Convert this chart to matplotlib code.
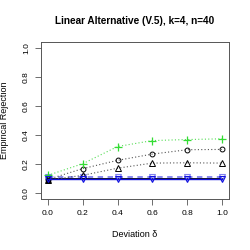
import matplotlib
matplotlib.use("Agg")
import matplotlib.pyplot as plt

plt.rcParams['font.family'] = ['Liberation Sans', 'DejaVu Sans']

# Deviation values
delta = [0.0, 0.2, 0.4, 0.6, 0.8, 1.0]

# Empirical rejection rates per test
green_plus = [0.123, 0.203, 0.321, 0.362, 0.369, 0.374]
circles = [0.095, 0.169, 0.226, 0.269, 0.299, 0.301]
triangles = [0.09, 0.123, 0.172, 0.207, 0.209, 0.207]
light_blue = [0.11, 0.11, 0.11, 0.11, 0.11, 0.11]
blue_tri = [0.10, 0.10, 0.10, 0.10, 0.10, 0.10]
black_line = [0.095, 0.095, 0.095, 0.095, 0.095, 0.095]
black_sq = [0.088]

fig = plt.figure(figsize=(2.5, 2.5), dpi=100)
ax = fig.add_axes([41 / 250, 51 / 250, 188 / 250, 157 / 250])

ax.plot(delta, black_line, color="black", lw=1.3, zorder=3)
ax.plot(delta[:1], black_sq, marker="s", ms=3, color="black", ls="none", zorder=4)
ax.plot(delta, light_blue, color="#8080f0", lw=1.3, ls=(0, (3, 2.5)),
        marker="v", ms=4, mfc="none", mec="#8080f0", mew=0.8, zorder=3)
ax.plot(delta, blue_tri, color="#1010e0", lw=1.0,
        marker="v", ms=4, mfc="none", mec="#1010e0", mew=0.8, zorder=4)
ax.plot(delta, triangles, color="#555555", lw=0.8, ls=(0, (1, 2)),
        marker="^", ms=4, mfc="none", mec="black", mew=0.7, zorder=3)
ax.plot(delta, circles, color="#555555", lw=0.8, ls=(0, (1, 2)),
        marker="o", ms=3.5, mfc="none", mec="black", mew=0.7, zorder=3)
ax.plot(delta, green_plus, color="#55dd55", lw=0.8, ls=(0, (1, 2)),
        marker="+", ms=6, mec="#33dd33", mew=0.9, zorder=3)

ax.set_xlim(-0.04, 1.04)
ax.set_ylim(-0.04, 1.04)
ax.set_xticks(delta)
ax.set_yticks([0.0, 0.2, 0.4, 0.6, 0.8, 1.0])
ax.set_xticklabels([f"{v:.1f}" for v in delta])
ax.set_yticklabels([f"{v:.1f}" for v in [0.0, 0.2, 0.4, 0.6, 0.8, 1.0]],
                   rotation=90, va="center")
ax.tick_params(labelsize=6, length=4, width=0.6, color="#555555", pad=4)
for s in ax.spines.values():
    s.set_linewidth(0.7)
    s.set_color("#555555")

ax.set_xlabel("Deviation δ", fontsize=6.5, labelpad=9)
ax.set_ylabel("Empirical Rejection", fontsize=6.5, labelpad=10)
ax.set_title("Linear Alternative (V.5), k=4, n=40", fontsize=7.2,
             fontweight="bold", pad=13)

fig.savefig("out.png", dpi=100)
